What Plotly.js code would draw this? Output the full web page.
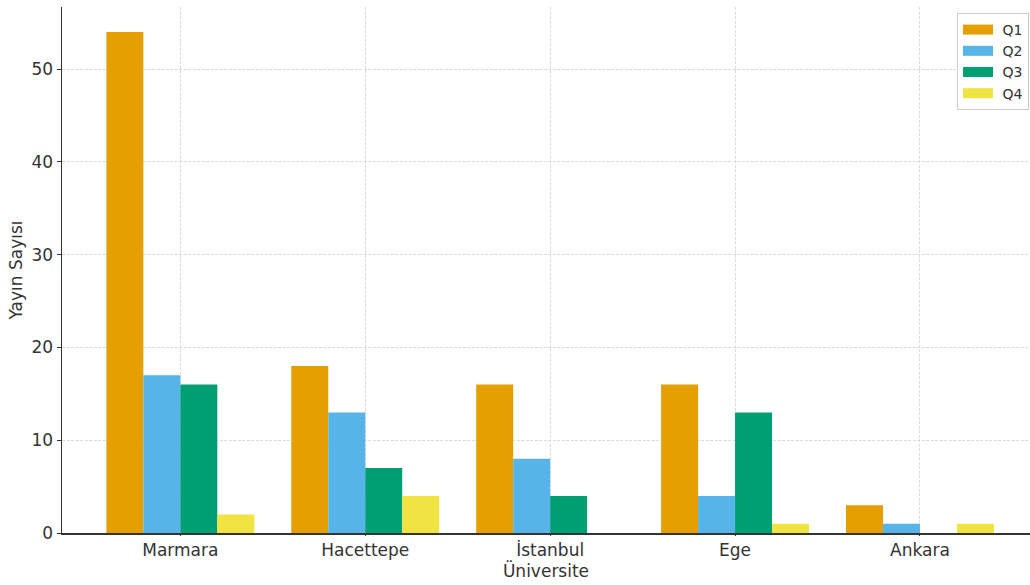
<!DOCTYPE html>
<html>
<head>
<meta charset="utf-8">
<script src="https://cdn.plot.ly/plotly-3.0.1.min.js"></script>
<style>html,body{margin:0;padding:0;background:#fff;}#chart{width:1030px;height:585px;}</style>
</head>
<body>
<div id="chart"></div>
<script>
const categories = ["Marmara", "Hacettepe", "İstanbul", "Ege", "Ankara"];
const seriesNames = ["Q1", "Q2", "Q3", "Q4"];
const q1 = [54, 18, 16, 16, 3];
const q2 = [17, 13, 8, 4, 1];
const q3 = [16, 7, 4, 13, 0];
const q4 = [2, 4, 0, 1, 1];
const colors = ["#E69F00", "#56B4E9", "#009E73", "#F0E442"];
const yTicks = [0, 10, 20, 30, 40, 50];

const values = [q1, q2, q3, q4];
const traces = [];
values.forEach((v, i) => {
  traces.push({
    type: "bar", x: categories, y: v, name: seriesNames[i],
    marker: {color: colors[i], line: {width: 0}}, showlegend: false, hoverinfo: "y"
  });
});
values.forEach((v, i) => {
  traces.push({
    type: "scatter", mode: "lines", x: [null], y: [null], name: "\u00a0" + seriesNames[i],
    line: {color: colors[i], width: 10}, showlegend: true, hoverinfo: "skip"
  });
});

const txtColor = "#333333";
const axisFont = {family: "DejaVu Sans, sans-serif", size: 17, color: txtColor};
const layout = {
  width: 1030, height: 585,
  margin: {l: 62, r: 0, t: 7, b: 52, autoexpand: false},
  paper_bgcolor: "#fff", plot_bgcolor: "#fff",
  barmode: "group", bargap: 0.2, bargroupgap: 0,
  font: axisFont,
  xaxis: {
    type: "category", range: [-0.64, 4.595],
    showgrid: true, gridcolor: "#d4d4d4", griddash: "3px,1.5px", gridwidth: 0.8,
    showline: true, linecolor: "#333333", linewidth: 1.5,
    ticks: "outside", ticklen: 1, tickcolor: "#333333",
    tickfont: axisFont, zeroline: false,
    title: {text: "Üniversite", font: axisFont, standoff: 0}
  },
  yaxis: {
    range: [0, 56.7], tickvals: yTicks,
    showgrid: true, gridcolor: "#d4d4d4", griddash: "3px,1.5px", gridwidth: 0.8,
    showline: true, linecolor: "#333333", linewidth: 1.5,
    ticks: "outside", ticklen: 4, tickcolor: "#333333",
    tickfont: axisFont, zeroline: false,
    title: {text: "Yayın Sayısı", font: axisFont, standoff: 4}
  },
  legend: {
    x: 0.9246, y: 0.9886, xanchor: "left", yanchor: "top",
    bgcolor: "rgba(255,255,255,0.9)", bordercolor: "#cccccc", borderwidth: 1,
    font: {family: "DejaVu Sans, sans-serif", size: 14, color: txtColor},
    itemwidth: 30, tracegroupgap: 0
  },
  showlegend: true
};
Plotly.newPlot("chart", traces, layout, {displayModeBar: false, staticPlot: true});
</script>
</body>
</html>
